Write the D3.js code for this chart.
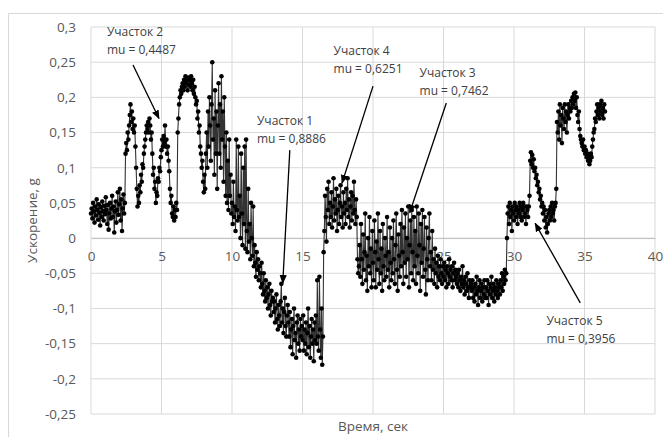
<!DOCTYPE html>
<html>
<head>
<meta charset="utf-8">
<script src="https://cdn.jsdelivr.net/npm/d3@7"></script>
<style>
  body { margin: 0; background: #fff; }
  text { font-family: "Open Sans", sans-serif; }
</style>
</head>
<body>
<div id="chart"></div>
<script>
// acceleration samples, one every 0.05 s (one second per two rows)
const sampleStep = 0.05;
const accel = [
    0.035, 0.042, 0.028, 0.05, 0.038, 0.022, 0.045, 0.032, 0.055, 0.04,
    0.026, 0.048, 0.036, 0.018, 0.044, 0.03, 0.052, 0.038, 0.025, 0.046,
    0.034, 0.058, 0.04, 0.02, 0.047, 0.012, 0.035, 0.05, 0.028, 0.042,
    0.06, 0.03, 0.045, 0.008, 0.038, 0.052, 0.022, 0.04, 0.065, 0.033,
    0.048, 0.07, 0.025, 0.055, 0.01, 0.042, 0.062, 0.035, 0.05, 0.12,
    0.135, 0.125, 0.15, 0.14, 0.16, 0.175, 0.19, 0.165, 0.18, 0.155,
    0.17, 0.15, 0.16, 0.13, 0.1, 0.07, 0.045, 0.06, 0.05, 0.075,
    0.065, 0.09, 0.08, 0.105, 0.1, 0.12, 0.13, 0.14, 0.15, 0.16,
    0.155, 0.165, 0.15, 0.17, 0.16, 0.14, 0.15, 0.12, 0.09, 0.1,
    0.07, 0.08, 0.05, 0.065, 0.06, 0.085, 0.08, 0.1, 0.095, 0.115,
    0.125, 0.14, 0.13, 0.145, 0.135, 0.16, 0.13, 0.14, 0.12, 0.13,
    0.11, 0.095, 0.07, 0.05, 0.06, 0.035, 0.03, 0.045, 0.025, 0.04,
    0.03, 0.05, 0.04, 0.15, 0.17, 0.19, 0.2, 0.21, 0.205, 0.215,
    0.22, 0.21, 0.225, 0.215, 0.23, 0.22, 0.225, 0.21, 0.228, 0.218,
    0.225, 0.215, 0.23, 0.22, 0.21, 0.225, 0.205, 0.215, 0.2, 0.19,
    0.195, 0.17, 0.18, 0.15, 0.16, 0.13, 0.12, 0.1, 0.11, 0.08,
    0.065, 0.09, 0.07, 0.12, 0.15, 0.1, 0.18, 0.13, 0.2, 0.16,
    0.11, 0.19, 0.25, 0.14, 0.17, 0.09, 0.21, 0.12, 0.18, 0.07,
    0.16, 0.22, 0.12, 0.19, 0.1, 0.23, 0.14, 0.18, 0.08, 0.2,
    0.13, 0.06, 0.15, 0.05, 0.11, 0.04, 0.14, 0.06, 0.09, 0.035,
    0.05, 0.02, 0.08, 0.03, 0.045, 0.01, 0.14, 0.04, 0.025, 0.13,
    0.03, 0.06, 0.0, 0.12, 0.035, -0.01, 0.1, 0.02, 0.13, -0.015,
    0.14, 0.01, -0.02, 0.07, -0.005, 0.02, -0.03, 0.05, 0.0, -0.025,
    0.045, -0.04, -0.01, -0.035, -0.055, -0.02, -0.045, -0.03, -0.06, -0.04,
    -0.05, -0.07, -0.035, -0.065, -0.08, -0.05, -0.075, -0.09, -0.06, -0.085,
    -0.07, -0.1, -0.08, -0.065, -0.095, -0.11, -0.075, -0.09, -0.085, -0.105,
    -0.09, -0.12, -0.1, -0.08, -0.115, -0.13, -0.095, -0.11, -0.125, -0.09,
    -0.065, -0.12, -0.1, -0.135, -0.105, -0.085, -0.125, -0.14, -0.11, -0.095,
    -0.12, -0.14, -0.105, -0.155, -0.13, -0.115, -0.165, -0.125, -0.1, -0.145,
    -0.135, -0.17, -0.12, -0.11, -0.15, -0.13, -0.16, -0.115, -0.14, -0.125,
    -0.145, -0.11, -0.16, -0.13, -0.15, -0.12, -0.165, -0.135, -0.1, -0.155,
    -0.125, -0.17, -0.14, -0.115, -0.15, -0.13, -0.175, -0.12, -0.145, -0.11,
    -0.15, -0.06, -0.14, -0.16, -0.055, -0.13, -0.17, -0.1, -0.18, -0.14,
    -0.02, 0.01, 0.06, 0.03, -0.005, 0.07, 0.04, 0.08, 0.02, 0.05,
    0.03, 0.065, 0.015, 0.045, 0.085, 0.025, 0.055, 0.035, 0.07, 0.01,
    0.04, 0.06, 0.02, 0.05, 0.075, 0.03, 0.045, 0.015, 0.065, 0.035,
    0.05, 0.02, 0.07, 0.04, 0.085, 0.03, 0.055, 0.015, 0.045, 0.065,
    0.025, 0.06, 0.035, 0.08, 0.04, 0.02, 0.055, 0.03, -0.03, -0.05,
    -0.04, -0.01, -0.055, 0.02, -0.03, -0.065, 0.005, -0.045, -0.02, 0.035,
    -0.06, -0.025, -0.075, 0.0, -0.04, 0.03, -0.05, -0.015, -0.07, 0.01,
    -0.035, -0.06, 0.025, -0.02, -0.07, -0.005, -0.045, 0.035, -0.03, -0.065,
    0.01, -0.05, -0.015, -0.075, 0.02, -0.04, -0.06, 0.0, -0.025, -0.055,
    0.03, -0.045, -0.02, -0.07, 0.015, -0.035, -0.06, 0.0, -0.05, 0.025,
    -0.03, -0.065, -0.01, 0.035, -0.045, -0.075, 0.005, -0.025, -0.055, 0.02,
    -0.04, 0.04, -0.02, -0.065, 0.015, -0.035, 0.035, -0.055, 0.0, -0.03,
    0.045, -0.07, -0.01, 0.025, -0.05, 0.04, -0.02, -0.06, 0.03, -0.04,
    0.01, -0.065, 0.045, -0.025, -0.05, 0.035, -0.01, -0.075, 0.02, -0.035,
    0.04, -0.055, -0.015, 0.03, -0.045, -0.08, 0.015, -0.03, -0.06, 0.0,
    0.035, -0.04, -0.02, -0.06, 0.01, -0.045, -0.03, -0.065, -0.015, -0.05,
    -0.035, -0.07, -0.025, -0.055, -0.04, -0.06, -0.03, -0.05, -0.065, -0.04,
    -0.055, -0.035, -0.06, -0.045, -0.07, -0.04, -0.05, -0.065, -0.03, -0.055,
    -0.045, -0.06, -0.04, -0.07, -0.05, -0.035, -0.06, -0.045, -0.055, -0.065,
    -0.05, -0.07, -0.045, -0.06, -0.075, -0.055, -0.065, -0.04, -0.07, -0.06,
    -0.08, -0.055, -0.065, -0.075, -0.05, -0.07, -0.085, -0.06, -0.07, -0.065,
    -0.075, -0.06, -0.085, -0.07, -0.09, -0.065, -0.08, -0.055, -0.075, -0.095,
    -0.07, -0.06, -0.085, -0.075, -0.065, -0.09, -0.07, -0.08, -0.06, -0.085,
    -0.07, -0.085, -0.06, -0.075, -0.095, -0.065, -0.08, -0.07, -0.055, -0.085,
    -0.075, -0.065, -0.09, -0.07, -0.08, -0.06, -0.075, -0.085, -0.065, -0.07,
    -0.08, -0.06, -0.07, -0.05, -0.075, -0.055, -0.065, -0.045, -0.06, -0.05,
    0.0, 0.035, 0.045, 0.02, 0.05, 0.03, 0.04, 0.01, 0.045, 0.035,
    0.025, 0.05, 0.04, 0.03, 0.045, 0.02, 0.04, 0.035, 0.05, 0.03,
    0.045, 0.025, 0.04, 0.05, 0.03, 0.045, 0.035, 0.02, 0.045, 0.04,
    0.03, 0.045, 0.06, 0.11, 0.122, 0.105, 0.118, 0.1, 0.112, 0.095,
    0.1, 0.085, 0.09, 0.075, 0.08, 0.065, 0.07, 0.055, 0.06, 0.045,
    0.05, 0.035, 0.045, 0.025, 0.04, 0.015, 0.03, 0.008, 0.02, 0.035,
    0.04, 0.025, 0.045, 0.03, 0.05, 0.035, 0.04, 0.025, 0.045, 0.05,
    0.07, 0.165, 0.15, 0.18, 0.14, 0.19, 0.16, 0.175, 0.135, 0.185,
    0.17, 0.155, 0.19, 0.165, 0.18, 0.15, 0.175, 0.19, 0.17, 0.185,
    0.18, 0.195, 0.185, 0.2, 0.19, 0.205, 0.195, 0.207, 0.185, 0.2,
    0.175, 0.165, 0.18, 0.155, 0.145, 0.14, 0.135, 0.13, 0.14, 0.125,
    0.13, 0.12, 0.125, 0.115, 0.12, 0.11, 0.115, 0.105, 0.11, 0.12,
    0.115, 0.13, 0.14, 0.15, 0.155, 0.17, 0.165, 0.18, 0.19, 0.175,
    0.185, 0.17, 0.19, 0.18, 0.195, 0.175, 0.185, 0.17, 0.19, 0.18
];

const xTicks = [0, 5, 10, 15, 20, 25, 30, 35, 40];
const yTicks = [-0.25, -0.2, -0.15, -0.1, -0.05, 0, 0.05, 0.1, 0.15, 0.2, 0.25, 0.3];

// annotations: label, mu, text anchor (t, g), arrow start and tip (t, g)
const notes = [
    { label: 'Участок 2', mu: 'mu = 0,4487', at: [1.13, 0.291], from: [2.98, 0.246], to: [4.82, 0.170] },
    { label: 'Участок 1', mu: 'mu = 0,8886', at: [11.77, 0.165], from: [14.1, 0.125], to: [13.6, -0.064] },
    { label: 'Участок 4', mu: 'mu = 0,6251', at: [17.2, 0.264], from: [20.0, 0.216], to: [17.8, 0.078] },
    { label: 'Участок 3', mu: 'mu = 0,7462', at: [23.3, 0.233], from: [25.2, 0.192], to: [22.6, 0.036] },
    { label: 'Участок 5', mu: 'mu = 0,3956', at: [32.3, -0.119], from: [34.7, -0.092], to: [31.5, 0.021] }
];

const chartWidth = 663;
const chartHeight = 437;
const plotLeft = 91, plotRight = 655, plotTop = 27, plotBottom = 414;

const x = d3.scaleLinear().domain([0, 40]).range([plotLeft, plotRight]);
const y = d3.scaleLinear().domain([-0.25, 0.3]).range([plotBottom, plotTop]);
const fmt = d => String(+d.toFixed(2)).replace('.', ',');

const svg = d3.select('#chart')
    .append('svg')
    .attr('width', chartWidth)
    .attr('height', chartHeight);

svg.append('rect')
    .attr('x', 8.5).attr('y', 13.5)
    .attr('width', 660).attr('height', 440)
    .attr('fill', 'none')
    .attr('stroke', '#d9d9d9');

svg.append('defs').append('marker')
    .attr('id', 'head')
    .attr('viewBox', '0 0 10 10')
    .attr('refX', 9).attr('refY', 5)
    .attr('markerWidth', 7).attr('markerHeight', 7)
    .attr('orient', 'auto')
    .append('path')
    .attr('d', 'M0,1 L10,5 L0,9 z')
    .attr('fill', '#000');

// grid
svg.append('g')
    .selectAll('line')
    .data(yTicks)
    .enter()
    .append('line')
    .attr('x1', plotLeft).attr('x2', plotRight)
    .attr('y1', d => y(d)).attr('y2', d => y(d))
    .attr('stroke', '#d9d9d9');

svg.append('g')
    .selectAll('line')
    .data(xTicks)
    .enter()
    .append('line')
    .attr('x1', d => x(d)).attr('x2', d => x(d))
    .attr('y1', plotTop).attr('y2', plotBottom)
    .attr('stroke', '#d9d9d9');

// y axis labels
const yAxis = d3.axisLeft(y)
    .tickValues(yTicks)
    .tickSize(0)
    .tickPadding(15)
    .tickFormat(fmt);

svg.append('g')
    .attr('class', 'y-axis')
    .attr('transform', 'translate(' + plotLeft + ',0)')
    .call(yAxis)
    .call(g => g.select('.domain').remove())
    .selectAll('text')
    .attr('fill', '#595959')
    .style('font-size', '13.5px');

// x axis sits on zero
const xAxis = d3.axisBottom(x)
    .tickValues(xTicks)
    .tickSize(0)
    .tickPadding(13)
    .tickFormat(d => d);

svg.append('g')
    .attr('class', 'x-axis')
    .attr('transform', 'translate(0,' + y(0) + ')')
    .call(xAxis)
    .call(g => g.select('.domain').attr('stroke', '#bfbfbf'))
    .selectAll('text')
    .attr('fill', '#595959')
    .style('font-size', '13.5px');

svg.append('text')
    .attr('transform', 'translate(37,' + (plotTop + plotBottom) / 2 + ') rotate(-90)')
    .attr('text-anchor', 'middle')
    .attr('fill', '#595959')
    .style('font-size', '13.5px')
    .text('Ускорение, g');

svg.append('text')
    .attr('x', (plotLeft + plotRight) / 2)
    .attr('y', 431)
    .attr('text-anchor', 'middle')
    .attr('fill', '#595959')
    .style('font-size', '13.5px')
    .text('Время, сек');

// series
const line = d3.line()
    .x((d, i) => x(i * sampleStep))
    .y(d => y(d));

svg.append('path')
    .datum(accel)
    .attr('d', line)
    .attr('fill', 'none')
    .attr('stroke', '#333')
    .attr('stroke-width', 1.1);

svg.append('g')
    .selectAll('circle')
    .data(accel)
    .enter()
    .append('circle')
    .attr('cx', (d, i) => x(i * sampleStep))
    .attr('cy', d => y(d))
    .attr('r', 2.3)
    .attr('fill', '#000');

// annotations
const ann = svg.append('g');

ann.selectAll('line')
    .data(notes)
    .enter()
    .append('line')
    .attr('x1', d => x(d.from[0])).attr('y1', d => y(d.from[1]))
    .attr('x2', d => x(d.to[0])).attr('y2', d => y(d.to[1]))
    .attr('stroke', '#000')
    .attr('stroke-width', 1.3)
    .attr('marker-end', 'url(#head)');

const labels = ann.selectAll('text.note')
    .data(notes)
    .enter()
    .append('text')
    .attr('class', 'note')
    .attr('x', d => x(d.at[0]))
    .attr('y', d => y(d.at[1]))
    .attr('fill', '#404040')
    .style('font-size', '12px')
    .attr('dominant-baseline', 'middle');

labels.append('tspan').text(d => d.label);
labels.append('tspan')
    .attr('x', d => x(d.at[0]))
    .attr('dy', 18)
    .text(d => d.mu);
</script>
</body>
</html>
